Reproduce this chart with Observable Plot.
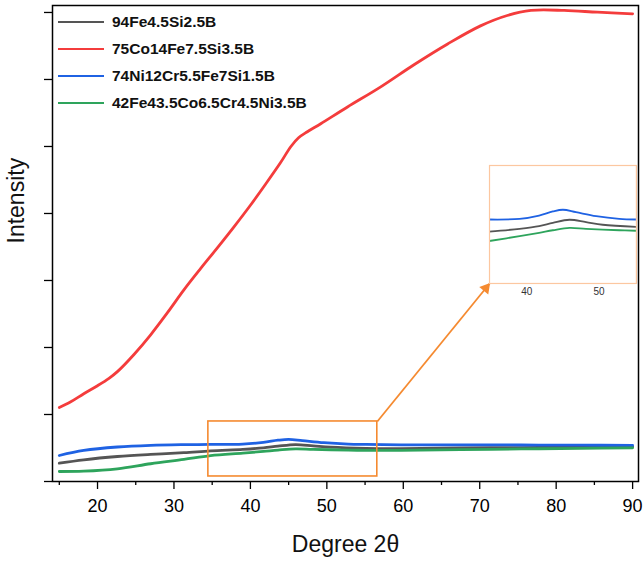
<!DOCTYPE html>
<html><head><meta charset="utf-8">
<script src="https://cdn.jsdelivr.net/npm/d3@7"></script>
<script src="https://cdn.jsdelivr.net/npm/@observablehq/plot@0.6"></script>
<style>
body{margin:0;background:#fff;font-family:"Liberation Sans",Arial,sans-serif;}
#wrap{position:relative;width:644px;height:562px;overflow:hidden;}
#wrap svg{position:absolute;}
.legend{position:absolute;left:58px;top:8px;}
.legend div{height:27px;line-height:27px;font-size:15.5px;font-weight:bold;color:#111;white-space:nowrap;}
.legend span.sw{display:inline-block;width:46px;height:0;border-top:2.6px solid;vertical-align:middle;margin-right:8px;position:relative;top:-1px;}
</style></head><body><div id="wrap"></div>
<script>
// ---- data ----
const seriesNames = ["94Fe4.5Si2.5B","75Co14Fe7.5Si3.5B","74Ni12Cr5.5Fe7Si1.5B","42Fe43.5Co6.5Cr4.5Ni3.5B"];
const seriesColors = ["#555555","#f43c3c","#1f62e3","#2ea45c"];

const grayX = [15, 18.2, 22.6, 26.95, 31.3, 34.8, 39, 41.7, 43.6, 45.9, 48.2, 50.5, 55.1, 59.7, 67.5, 75.4, 83.2, 90];
const grayY = [0.273, 0.324, 0.373, 0.405, 0.43, 0.458, 0.48, 0.501, 0.527, 0.551, 0.532, 0.512, 0.495, 0.492, 0.5, 0.507, 0.513, 0.518];

const redX = [15.0, 16.5, 18.2, 20.0, 21.5, 22.6, 24.8, 26.95, 29.15, 31.3, 33.5, 35.7, 37.85, 40.05, 42.0, 43.95, 45.3, 46.3, 47.45, 49.2, 52.7, 57.05, 61.4, 65.8, 70.1, 73.6, 76.7, 81.05, 85.4, 90.0];
const redY = [1.105, 1.19, 1.31, 1.43, 1.54, 1.64, 1.9, 2.19, 2.52, 2.86, 3.18, 3.49, 3.8, 4.13, 4.44, 4.76, 5.0, 5.13, 5.22, 5.34, 5.59, 5.89, 6.22, 6.53, 6.8, 6.955, 7.03, 7.03, 7.004, 6.98];

const blueX = [15, 18.2, 22.6, 26.95, 31.3, 34.8, 39, 41.7, 43.6, 45.0, 46.8, 49.6, 52.8, 55.1, 59.7, 67.5, 75.4, 83.2, 90];
const blueY = [0.388, 0.463, 0.515, 0.54, 0.55, 0.553, 0.558, 0.584, 0.616, 0.629, 0.61, 0.579, 0.558, 0.553, 0.548, 0.546, 0.545, 0.542, 0.54];

const greenX = [15, 18.2, 22.6, 26.95, 31.3, 34.8, 39, 41.7, 43.6, 45.9, 48.2, 52.8, 55.1, 59.7, 67.5, 75.4, 83.2, 90];
const greenY = [0.149, 0.155, 0.19, 0.265, 0.33, 0.385, 0.423, 0.449, 0.469, 0.488, 0.48, 0.469, 0.465, 0.465, 0.475, 0.486, 0.494, 0.503];

const xMajorTicks = [20, 30, 40, 50, 60, 70, 80, 90];
const xMinorTicks = [15, 25, 35, 45, 55, 65, 75, 85];
const yTicks = [0, 1, 2, 3, 4, 5, 6, 7];
const insetTicks = [40, 50];

const xDomain = [14.11, 90.77];
const yDomain = [0, 7.104];
// zoomed region (orange box) and inset placement, in main-chart data units
const zoomBoxX = [34.5, 56.6];
const zoomBoxY = [0.075, 0.896];
const insetBoxX = [71.3, 90.52];
const insetBoxY = [2.955, 4.716];
const insetXDomain = [34.83, 55.17];
const insetYDomain = [0.053, 0.975];

// ---- build ----
const allX = [grayX, redX, blueX, greenX];
const allY = [grayY, redY, blueY, greenY];
const rows = [];
seriesNames.forEach((s, i) => allX[i].forEach((x, j) => rows.push({series: s, x, y: allY[i][j]})));

const W = 644, H = 562, mL = 52, mR = 6, mT = 5, mB = 81;
const sx = Plot.scale({x: {domain: xDomain, range: [mL, W - mR]}});
const sy = Plot.scale({y: {domain: yDomain, range: [H - mB, mT]}});

// arrow geometry (screen space) from zoom box corner to inset corner
const ax1 = sx.apply(zoomBoxX[1]), ay1 = sy.apply(zoomBoxY[1]);
const ax2 = sx.apply(insetBoxX[0]), ay2 = sy.apply(insetBoxY[0]);
const len = Math.hypot(ax2 - ax1, ay2 - ay1);
const ux = (ax2 - ax1) / len, uy = (ay2 - ay1) / len;
const back = 6;
const angle = Math.atan2(ux, -uy) * 180 / Math.PI;
const orange = "#f58a30";

const main = Plot.plot({
  width: W, height: H, marginTop: mT, marginBottom: mB, marginLeft: mL, marginRight: mR,
  style: {fontFamily: "Liberation Sans, Arial, sans-serif", color: "#000", background: "#fff", overflow: "visible"},
  x: {domain: xDomain},
  y: {domain: yDomain},
  color: {domain: seriesNames, range: seriesColors},
  marks: [
    Plot.axisX(xMinorTicks, {tickSize: 4, tickFormat: () => "", label: null, strokeWidth: 1.3}),
    Plot.axisX(xMajorTicks, {tickSize: 8, tickPadding: 10, fontSize: 18, label: null, strokeWidth: 1.3}),
    Plot.axisY(yTicks, {tickSize: 8, tickFormat: () => "", label: null, strokeWidth: 1.3}),
    Plot.line(rows, {x: "x", y: "y", z: "series", stroke: "series", strokeWidth: 2.8, curve: "catmull-rom"}),
    Plot.rect([0], {x1: () => zoomBoxX[0], x2: () => zoomBoxX[1], y1: () => zoomBoxY[0], y2: () => zoomBoxY[1], fill: "none", stroke: orange, strokeWidth: 1.6}),
    Plot.link([0], {x1: () => zoomBoxX[1], y1: () => zoomBoxY[1], x2: () => insetBoxX[0], y2: () => insetBoxY[0], stroke: orange, strokeWidth: 1.8}),
    Plot.dot([0], {x: () => insetBoxX[0], y: () => insetBoxY[0], symbol: "triangle", r: 4.3, fill: orange, stroke: "none", rotate: angle, dx: -back * ux, dy: -back * uy}),
    Plot.frame({stroke: "#000", strokeWidth: 1.5}),
    Plot.text(["Degree 2θ"], {frameAnchor: "bottom", dy: 70, fontSize: 23, fill: "#111"}),
    Plot.text(["Intensity"], {frameAnchor: "left", rotate: -90, dx: -36, fontSize: 23, fill: "#111"})
  ]
});
const wrap = document.getElementById("wrap");
main.style.left = "0px"; main.style.top = "0px";
wrap.appendChild(main);

// inset
const iL = sx.apply(insetBoxX[0]), iR = sx.apply(insetBoxX[1]);
const iT = sy.apply(insetBoxY[1]), iB = sy.apply(insetBoxY[0]);
const insetRows = rows.filter(d => d.series !== seriesNames[1] && d.x >= insetXDomain[0] - 3 && d.x <= insetXDomain[1] + 3);
const inset = Plot.plot({
  width: iR - iL, height: iB - iT + 18, marginTop: 0, marginBottom: 18, marginLeft: 0, marginRight: 0,
  style: {fontFamily: "Liberation Sans, Arial, sans-serif", color: "#333", background: "transparent", overflow: "visible"},
  x: {domain: insetXDomain},
  y: {domain: insetYDomain, axis: null},
  color: {domain: seriesNames, range: seriesColors},
  marks: [
    Plot.frame({fill: "#fff", stroke: "none"}),
    Plot.line(insetRows, {x: "x", y: "y", z: "series", stroke: "series", strokeWidth: 1.8, curve: "catmull-rom", clip: true}),
    Plot.frame({stroke: "#fcc7a0", strokeWidth: 1.2}),
    Plot.axisX(insetTicks, {tickSize: 0, tickPadding: 4, fontSize: 10, label: null})
  ]
});
inset.style.left = iL + "px"; inset.style.top = iT + "px";
wrap.appendChild(inset);

// legend
const leg = document.createElement("div");
leg.className = "legend";
seriesNames.forEach((s, i) => {
  const row = document.createElement("div");
  const sw = document.createElement("span");
  sw.className = "sw"; sw.style.borderTopColor = seriesColors[i];
  row.appendChild(sw);
  row.appendChild(document.createTextNode(s));
  leg.appendChild(row);
});
wrap.appendChild(leg);
</script></body></html>
